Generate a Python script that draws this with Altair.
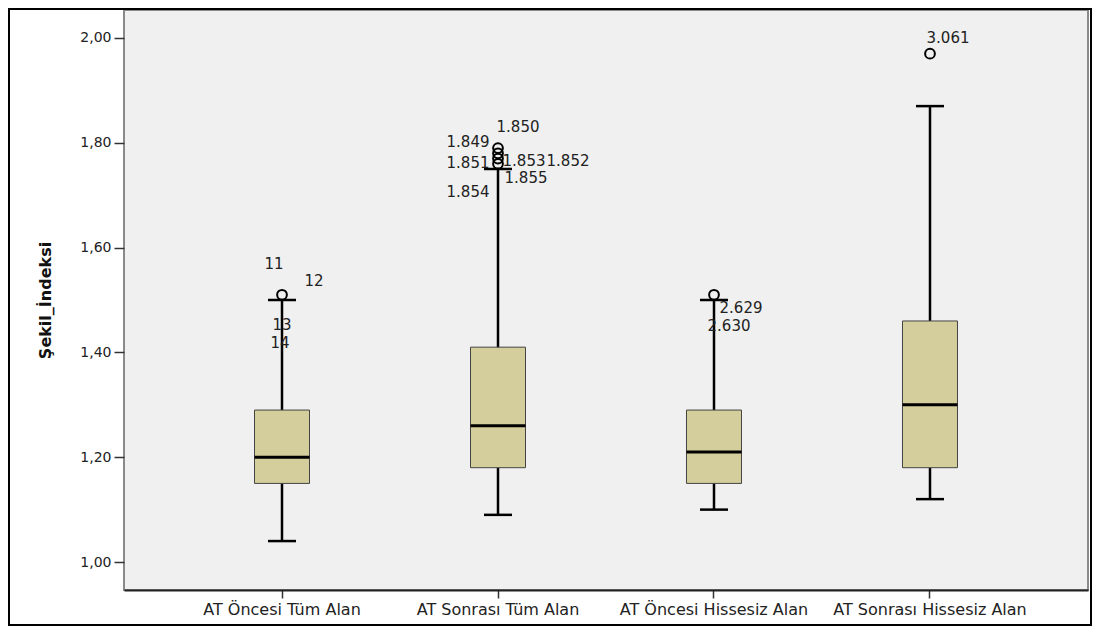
import altair as alt
import pandas as pd

categories = ["AT Öncesi Tüm Alan", "AT Sonrası Tüm Alan",
              "AT Öncesi Hissesiz Alan", "AT Sonrası Hissesiz Alan"]
lower = [1.04, 1.09, 1.10, 1.12]
q1 = [1.15, 1.18, 1.15, 1.18]
median = [1.20, 1.26, 1.21, 1.30]
q3 = [1.29, 1.41, 1.29, 1.46]
upper = [1.50, 1.75, 1.50, 1.87]

outlier_group = [0, 1, 1, 1, 1, 2, 3]
outlier_value = [1.51, 1.79, 1.78, 1.77, 1.76, 1.51, 1.97]

label_text = ["11", "12", "13", "14", "1.849", "1.850", "1.851", "1.853",
              "1.852", "1.855", "1.854", "2.629", "2.630", "3.061"]
label_group = [0, 0, 0, 0, 1, 1, 1, 1, 1, 1, 1, 2, 2, 3]
label_value = [1.51, 1.51, 1.51, 1.51, 1.79, 1.79, 1.77, 1.77, 1.77, 1.76,
               1.76, 1.51, 1.51, 1.97]
# pixel offsets of the case labels from their outlier point
label_dx = [-8, 32, 0, -2, -30, 20, -30, 26, 70, 28, -30, 27, 15, 18]
label_dy = [-31, -14, 30, 48, -6, -21, 4.5, 2.5, 2.5, 14, 28, 13, 31, -16]

y_ticks = [1.0, 1.2, 1.4, 1.6, 1.8, 2.0]

FONT = "DejaVu Sans"
BOX_FILL = "#D4CE9C"

boxes = pd.DataFrame({"cat": categories, "lower": lower, "q1": q1,
                      "median": median, "q3": q3, "upper": upper})
outs = pd.DataFrame({"cat": [categories[g] for g in outlier_group],
                     "value": outlier_value})

xscale = alt.Scale(type="band", domain=categories, paddingInner=0, paddingOuter=0.2315)
yscale = alt.Scale(domain=[0.9466, 2.0534], nice=False, zero=False)

x_axis = alt.Axis(title=None, labelAngle=0, labelFont=FONT, labelFontSize=16,
                  labelColor="#222222", tickColor="#333333", tickSize=8,
                  tickWidth=1.5, domainColor="#222222", domainWidth=2,
                  labelPadding=3, labelLimit=400, labelOverlap=False)
x_enc = alt.X("cat:N", scale=xscale, sort=categories, axis=x_axis)

y_axis = alt.Axis(title="Şekil_İndeksi", values=y_ticks, grid=False,
                  labelExpr="replace(format(datum.value, '.2f'), '.', ',')",
                  labelFont=FONT, labelFontSize=14, labelColor="#222222",
                  tickColor="#333333", tickSize=10, tickWidth=1.5, labelPadding=3,
                  domain=False, titleFont=FONT, titleFontSize=16, titleFontWeight="bold",
                  titleColor="#111111", titlePadding=26)

def yq(field):
    return alt.Y(field, scale=yscale, axis=y_axis)

base = alt.Chart(boxes)

whisker = base.mark_rule(color="black", strokeWidth=2.5).encode(
    x=x_enc, y=yq("lower:Q"), y2="upper:Q"
)
box = base.mark_bar(size=55, fill=BOX_FILL, stroke="#444444", strokeWidth=1,
                    opacity=1).encode(
    x=x_enc, y=yq("q1:Q"), y2="q3:Q"
)
med = base.mark_tick(size=55, thickness=3, color="black", opacity=1).encode(
    x=x_enc, y=yq("median:Q")
)
cap_lo = base.mark_tick(size=28, thickness=2.5, color="black", opacity=1).encode(
    x=x_enc, y=yq("lower:Q")
)
cap_hi = base.mark_tick(size=28, thickness=2.5, color="black", opacity=1).encode(
    x=x_enc, y=yq("upper:Q")
)
points = alt.Chart(outs).mark_point(shape="circle", size=95, filled=False,
                                    color="black", strokeWidth=2, opacity=1).encode(
    x=x_enc, y=yq("value:Q")
)

layers = [whisker, box, med, cap_lo, cap_hi, points]
for t, g, v, dx, dy in zip(label_text, label_group, label_value, label_dx, label_dy):
    df = pd.DataFrame({"cat": [categories[g]], "value": [v], "txt": [t]})
    layers.append(
        alt.Chart(df).mark_text(font=FONT, fontSize=15, color="#222222",
                                align="center", baseline="middle", dx=dx, dy=dy).encode(
            x=x_enc, y=yq("value:Q"), text="txt:N")
    )

frame = alt.Chart(pd.DataFrame({"a": [0]})).mark_rect(
    fillOpacity=0, stroke="black", strokeWidth=2).encode(
    x=alt.value(-115), x2=alt.value(967), y=alt.value(-1), y2=alt.value(615)
)
layers.append(frame)

chart = alt.layer(*layers).properties(
    width=964, height=580,
    autosize=alt.AutoSizeParams(type="none"),
    padding={"left": 116, "top": 2, "right": 5, "bottom": 36},
    background="white",
).configure_view(fill="#F0F0F0", stroke="#8A8A8A", strokeWidth=2)

chart.save("out.html", embed_options={"renderer": "svg", "actions": False})
